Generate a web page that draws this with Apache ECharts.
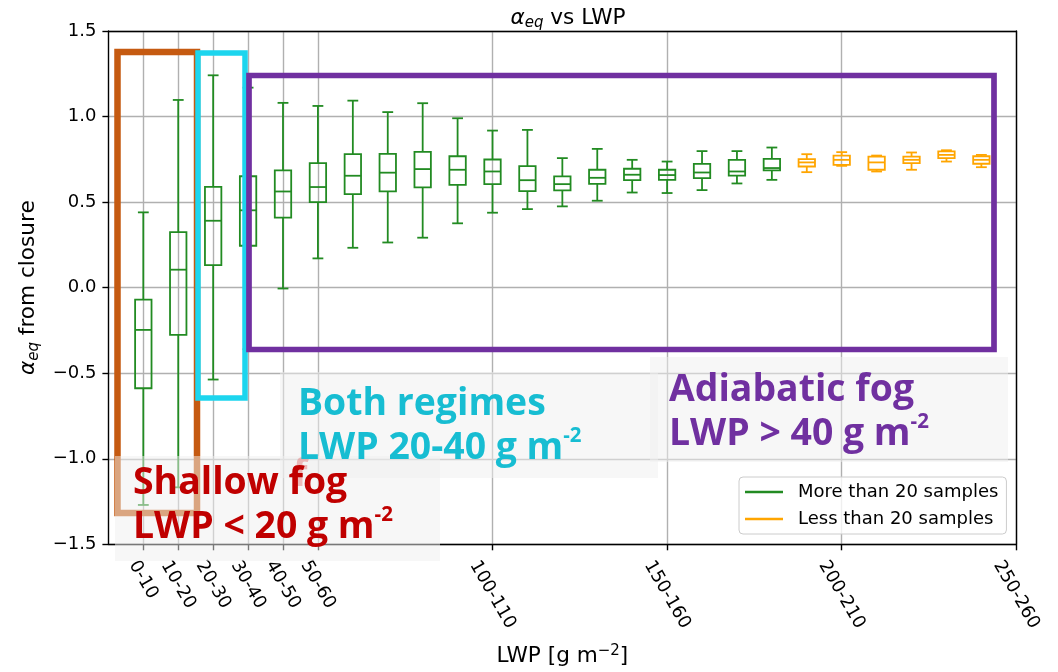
<!DOCTYPE html>
<html>
<head>
<meta charset="utf-8">
<script src="https://cdn.jsdelivr.net/npm/echarts@6/dist/echarts.min.js"></script>
<style>
  html, body { margin: 0; padding: 0; background: #ffffff; }
  #chart { width: 1058px; height: 672px; }
</style>
</head>
<body>
<div id="chart"></div>
<script>
// LWP bins (g m-2) on the x axis
const lwpBins = ['0-10', '10-20', '20-30', '30-40', '40-50', '50-60', '60-70', '70-80', '80-90', '90-100',
  '100-110', '110-120', '120-130', '130-140', '140-150', '150-160', '160-170', '170-180', '180-190',
  '190-200', '200-210', '210-220', '220-230', '230-240', '240-250', '250-260'];
// bins that carry a tick label and a vertical grid line
const tickLabels = ['0-10', '10-20', '20-30', '30-40', '40-50', '50-60', '100-110', '150-160', '200-210', '250-260'];
// bins with fewer than 20 samples
const smallSampleBins = ['190-200', '200-210', '210-220', '220-230', '230-240', '240-250'];

// box statistics of alpha_eq per bin (whisker ends, quartiles, median)
const whiskerLow = [-1.27, -1.167, -0.537, -0.36, -0.005, 0.171, 0.233, 0.264, 0.292, 0.376,
  0.438, 0.459, 0.475, 0.508, 0.556, 0.553, 0.57, 0.609, 0.63,
  0.675, 0.712, 0.679, 0.689, 0.737, 0.704];
const quartile1 = [-0.588, -0.276, 0.132, 0.245, 0.409, 0.5, 0.547, 0.563, 0.586, 0.601,
  0.605, 0.564, 0.568, 0.607, 0.628, 0.63, 0.64, 0.655, 0.685,
  0.708, 0.718, 0.689, 0.728, 0.757, 0.724];
const median = [-0.247, 0.105, 0.391, 0.452, 0.562, 0.588, 0.654, 0.672, 0.693, 0.689,
  0.679, 0.628, 0.605, 0.642, 0.66, 0.658, 0.673, 0.679, 0.699,
  0.732, 0.747, 0.732, 0.747, 0.776, 0.747];
const quartile3 = [-0.07, 0.325, 0.589, 0.651, 0.685, 0.728, 0.78, 0.782, 0.794, 0.768,
  0.749, 0.71, 0.65, 0.689, 0.695, 0.689, 0.723, 0.747, 0.753,
  0.751, 0.772, 0.766, 0.766, 0.796, 0.768];
const whiskerHigh = [0.44, 1.097, 1.241, 1.169, 1.08, 1.062, 1.093, 1.026, 1.078, 0.99,
  0.918, 0.922, 0.757, 0.811, 0.747, 0.737, 0.798, 0.798, 0.819,
  0.78, 0.792, 0.772, 0.79, 0.803, 0.776];

const GREEN = '#228B22';
const ORANGE = '#FFA500';
const FONT = 'DejaVu Sans';
const NOTE_FONT = 'Open Sans';

// an empty slot left of the first bin keeps one band of space before it
const axisCategories = [''].concat(lwpBins);

const manyData = [];
const fewData = [];
whiskerLow.forEach(function (lo, i) {
  const row = [i + 1, lo, quartile1[i], median[i], quartile3[i], whiskerHigh[i]];
  (smallSampleBins.indexOf(lwpBins[i]) >= 0 ? fewData : manyData).push(row);
});

function renderBox(params, api) {
  const x = api.value(0);
  const band = api.size([1, 0])[0];
  const half = band * 0.235;
  const cap = band * 0.155;
  const cx = api.coord([x, api.value(3)])[0];
  const py = function (v) { return api.coord([x, v])[1]; };
  const lo = py(api.value(1)), q1 = py(api.value(2)), med = py(api.value(3)),
        q3 = py(api.value(4)), hi = py(api.value(5));
  const style = { stroke: api.visual('color'), lineWidth: 1.8, fill: 'none' };
  return {
    type: 'group',
    children: [
      { type: 'line', shape: { x1: cx, y1: q3, x2: cx, y2: hi }, style: style },
      { type: 'line', shape: { x1: cx, y1: q1, x2: cx, y2: lo }, style: style },
      { type: 'line', shape: { x1: cx - cap, y1: hi, x2: cx + cap, y2: hi }, style: style },
      { type: 'line', shape: { x1: cx - cap, y1: lo, x2: cx + cap, y2: lo }, style: style },
      { type: 'rect', shape: { x: cx - half, y: q3, width: 2 * half, height: q1 - q3 }, style: style },
      { type: 'line', shape: { x1: cx - half, y1: med, x2: cx + half, y2: med }, style: style }
    ]
  };
}

const isTick = function (index, value) { return tickLabels.indexOf(value) >= 0; };
const gridLine = { show: true, lineStyle: { color: '#b0b0b0', width: 1.4 } };

const chart = echarts.init(document.getElementById('chart'), null, { renderer: 'canvas' });

const mathRich = {
  a: { fontStyle: 'italic', fontFamily: FONT, fontSize: 21.6, lineHeight: 26, color: '#000' },
  s: { fontStyle: 'italic', fontFamily: FONT, fontSize: 15, lineHeight: 15, verticalAlign: 'bottom', color: '#000' },
  p: { fontFamily: FONT, fontSize: 15, lineHeight: 15, verticalAlign: 'top', color: '#000' }
};

chart.setOption({
  animation: false,
  backgroundColor: '#ffffff',
  title: {
    text: '{a|α}{s|eq} vs LWP',
    left: 563,
    textAlign: 'center',
    top: 0,
    textStyle: { fontFamily: FONT, fontSize: 21.6, fontWeight: 'normal', color: '#000', lineHeight: 26, rich: mathRich }
  },
  legend: {
    orient: 'vertical',
    left: 739,
    top: 477,
    padding: [5, 8, 5, 6],
    itemGap: 7,
    icon: 'rect',
    itemWidth: 38,
    itemHeight: 2.6,
    backgroundColor: 'rgba(255,255,255,0.8)',
    borderColor: '#cccccc',
    borderWidth: 1,
    borderRadius: 4,
    textStyle: { fontFamily: FONT, fontSize: 18, color: '#000', lineHeight: 20, padding: [0, 0, 0, 10] },
    data: [
      { name: 'More than 20 samples', itemStyle: { color: GREEN } },
      { name: 'Less than 20 samples', itemStyle: { color: ORANGE } }
    ]
  },
  grid: { left: 108.4, right: 41.7, top: 31, bottom: 127.7, outerBoundsMode: 'none' },
  xAxis: [{
    type: 'category',
    data: axisCategories,
    boundaryGap: false,
    position: 'bottom',
    name: 'LWP [g m{p|−2}]',
    nameLocation: 'middle',
    nameGap: 99,
    nameTextStyle: { fontFamily: FONT, fontSize: 21.6, color: '#000', lineHeight: 26, rich: mathRich },
    axisLine: { onZero: false, lineStyle: { color: '#000', width: 1.4 } },
    axisTick: { show: true, interval: isTick, length: 6, lineStyle: { color: '#000', width: 1.4 } },
    axisLabel: { show: false },
    splitLine: { show: true, interval: isTick, lineStyle: { color: '#b0b0b0', width: 1.4 } }
  }, {
    type: 'category',
    data: axisCategories,
    boundaryGap: false,
    position: 'top',
    axisLine: { onZero: false, lineStyle: { color: '#000', width: 1.4 } },
    axisTick: { show: false },
    axisLabel: { show: false },
    splitLine: { show: false }
  }],
  yAxis: [{
    type: 'value',
    min: -1.5,
    max: 1.5,
    interval: 0.5,
    position: 'left',
    name: '{a|α}{s|eq} from closure',
    nameLocation: 'middle',
    nameRotate: 90,
    nameGap: 58,
    nameTextStyle: { fontFamily: FONT, fontSize: 21.6, color: '#000', lineHeight: 26, rich: mathRich },
    axisLine: { show: true, onZero: false, lineStyle: { color: '#000', width: 1.4 } },
    axisTick: { show: true, length: 6, lineStyle: { color: '#000', width: 1.4 } },
    axisLabel: {
      margin: 12,
      fontFamily: FONT,
      fontSize: 18,
      color: '#000',
      formatter: function (v) { return v.toFixed(1).replace('-', '\u2212'); }
    },
    splitLine: gridLine
  }, {
    type: 'value',
    min: -1.5,
    max: 1.5,
    interval: 0.5,
    position: 'right',
    axisLine: { show: true, onZero: false, lineStyle: { color: '#000', width: 1.4 } },
    axisTick: { show: false },
    axisLabel: { show: false },
    splitLine: { show: false }
  }],
  series: [{
    name: 'More than 20 samples',
    type: 'custom',
    renderItem: renderBox,
    itemStyle: { color: GREEN },
    encode: { x: 0, y: [1, 2, 3, 4, 5] },
    data: manyData,
    z: 3
  }, {
    name: 'Less than 20 samples',
    type: 'custom',
    renderItem: renderBox,
    itemStyle: { color: ORANGE },
    encode: { x: 0, y: [1, 2, 3, 4, 5] },
    data: fewData,
    z: 3
  }]
});

// rotated x tick labels, centred under their tick
const measure = document.createElement('canvas').getContext('2d');
measure.font = '18px "' + FONT + '"';
const axisBottom = chart.convertToPixel({ yAxisIndex: 0 }, -1.5);
const sin60 = Math.sin(Math.PI / 3), cos60 = Math.cos(Math.PI / 3);
const labelBoxHeight = 21;
const tickTexts = tickLabels.map(function (label) {
  const px = chart.convertToPixel({ xAxisIndex: 0 }, axisCategories.indexOf(label));
  const len = measure.measureText(label).width;
  const h = len * sin60 + labelBoxHeight * cos60;
  return {
    type: 'text',
    x: px,
    y: axisBottom + 12.6 + h / 2,
    rotation: -Math.PI / 3,
    z: 40,
    style: { text: label, fontFamily: FONT, fontSize: 18, fill: '#000', align: 'center', verticalAlign: 'middle' }
  };
});

// regime outlines and their captions
const noteRich = function (color) {
  return { sup: { fontFamily: NOTE_FONT, fontWeight: 'bold', fontSize: 20.5, lineHeight: 34, verticalAlign: 'top', fill: color } };
};
const noteText = function (x, y, text, color) {
  return {
    type: 'text', x: x, y: y, z: 120,
    style: {
      text: text, fontFamily: NOTE_FONT, fontWeight: 'bold', fontSize: 37.4, lineHeight: 44,
      fill: color, align: 'left', verticalAlign: 'top', rich: noteRich(color)
    }
  };
};
const noteBack = function (x, y, w, h) {
  return { type: 'rect', z: 110, shape: { x: x, y: y, width: w, height: h }, style: { fill: 'rgba(240,240,240,0.5)' } };
};
const outline = function (x, y, w, h, color, lw, z) {
  return { type: 'rect', z: z, shape: { x: x, y: y, width: w, height: h }, style: { fill: 'none', stroke: color, lineWidth: lw } };
};

const notes = [
  outline(117.5, 52, 79.5, 461, '#c55a11', 6.5, 100),
  outline(198, 53, 47, 345, '#1cd5ee', 5.5, 101),
  outline(249, 75.5, 745, 274, '#7030a0', 5.7, 102),
  noteBack(115, 456, 325, 105),
  noteBack(280, 372, 378, 106),
  noteBack(650, 357, 358, 105),
  { type: 'text', x: 293, y: 457, z: 115,
    style: { text: 'f', fontFamily: NOTE_FONT, fontWeight: 'bold', fontSize: 37.4, fill: 'rgba(226,110,110,0.45)', verticalAlign: 'top' } },
  noteText(133, 461, 'Shallow fog\nLWP < 20 g m{sup|-2}', '#c00000'),
  noteText(298, 382, 'Both regimes\nLWP 20-40 g m{sup|-2}', '#17bdd2'),
  noteText(669, 368, 'Adiabatic fog\nLWP > 40 g m{sup|-2}', '#7030a0')
];

chart.setOption({ graphic: { elements: tickTexts.concat(notes) } });
</script>
</body>
</html>
